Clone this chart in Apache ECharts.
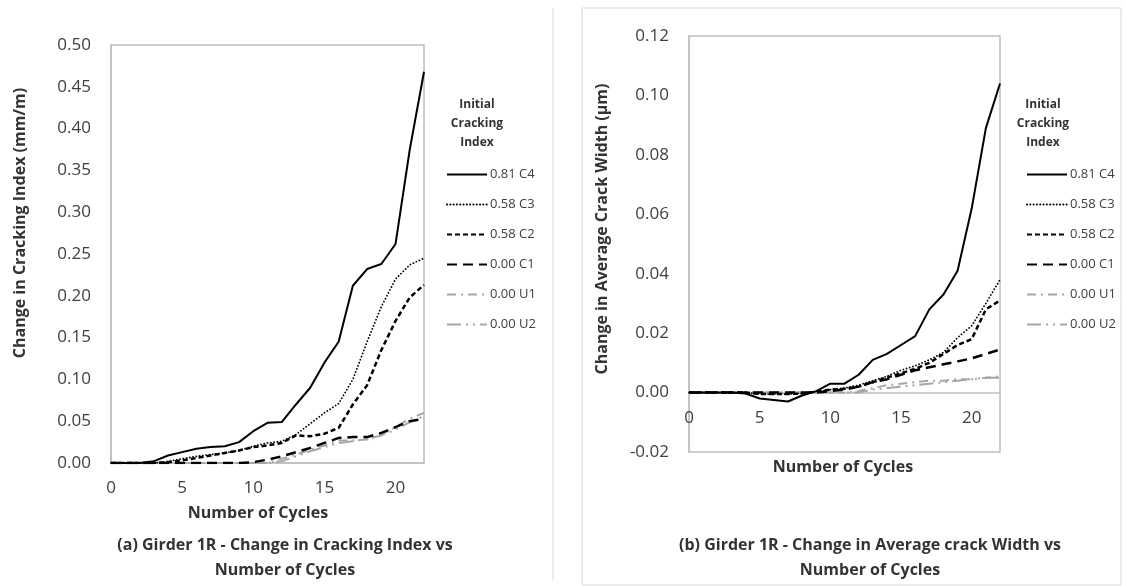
<!DOCTYPE html>
<html>
<head>
<meta charset="utf-8">
<script src="https://cdn.jsdelivr.net/npm/echarts@6/dist/echarts.min.js"></script>
<style>
html,body{margin:0;padding:0;background:#fff;}
#chart{width:1126px;height:586px;}
</style>
</head>
<body>
<div id="chart"></div>
<script>
// ---- data ----
const cycles = [0,1,2,3,4,5,6,7,8,9,10,11,12,13,14,15,16,17,18,19,20,21,22];
const seriesNames = ['0.81 C4','0.58 C3','0.58 C2','0.00 C1','0.00 U1','0.00 U2'];
const xTicks = [0,5,10,15,20];
const leftYTicks = ['0.00','0.05','0.10','0.15','0.20','0.25','0.30','0.35','0.40','0.45','0.50'];
const rightYTicks = ['-0.02','0.00','0.02','0.04','0.06','0.08','0.10','0.12'];

// (a) Change in Cracking Index (mm/m)
const aC4 = [0,0,0,0.002,0.009,0.013,0.017,0.019,0.020,0.025,0.038,0.048,0.049,0.070,0.090,0.120,0.145,0.212,0.232,0.238,0.262,0.375,0.468];
const aC3 = [0,0,0,0,0.002,0.005,0.008,0.010,0.012,0.015,0.020,0.024,0.026,0.034,0.047,0.060,0.071,0.100,0.145,0.187,0.220,0.237,0.245];
const aC2 = [0,0,0,0,0.001,0.003,0.006,0.009,0.012,0.015,0.019,0.021,0.024,0.033,0.032,0.035,0.042,0.070,0.093,0.135,0.170,0.198,0.213];
const aC1 = [0,0,0,0,0,0,0,0,0,0,0.001,0.004,0.008,0.013,0.018,0.024,0.030,0.031,0.031,0.036,0.043,0.050,0.053];
const aU1 = [0,0,0,0,0,0,0,0,0,0,0,0,0.005,0.010,0.016,0.021,0.027,0.027,0.028,0.034,0.043,0.053,0.060];
const aU2 = [0,0,0,0,0,0,0,0,0,0,0,0,0.002,0.008,0.014,0.019,0.024,0.026,0.029,0.033,0.040,0.049,0.056];

// (b) Change in Average Crack Width (µm)
const bC4 = [0,0,0,0,-0.0003,-0.002,-0.0025,-0.003,-0.001,0.0005,0.003,0.003,0.006,0.011,0.013,0.016,0.019,0.028,0.033,0.041,0.062,0.089,0.104];
const bC3 = [0,0,0,0,0,-0.0005,-0.0005,-0.0005,-0.0003,0.0003,0.001,0.0015,0.0025,0.004,0.0055,0.0075,0.009,0.011,0.0135,0.0185,0.0225,0.030,0.038];
const bC2 = [0,0,0,0,0,-0.0005,-0.0005,-0.0005,-0.0003,0.0003,0.001,0.0013,0.002,0.0035,0.005,0.0065,0.008,0.010,0.013,0.016,0.018,0.028,0.031];
const bC1 = [0,0,0,0,0,0,0,0,0,0,0.0005,0.001,0.002,0.0035,0.0045,0.006,0.0075,0.0085,0.0095,0.0105,0.0115,0.013,0.0145];
const bU1 = [0,0,0,0,0,0,0,0,0,0,0,0,0.0005,0.0015,0.0025,0.003,0.0035,0.004,0.004,0.0045,0.0045,0.005,0.0055];
const bU2 = [0,0,0,0,0,0,0,0,0,0,0,0,0,0.001,0.0015,0.002,0.0025,0.003,0.0035,0.004,0.0045,0.005,0.005];

// ---- styles ----
const FONT = 'Open Sans';
const GRAY = '#a6a6a6';
const lineStyles = [
  {color:'#000', width:2, type:'solid'},
  {color:'#000', width:1.8, type:[0.1,3.2], cap:'round'},
  {color:'#000', width:2.5, type:[5,3]},
  {color:'#000', width:2.5, type:[10,6]},
  {color:GRAY, width:2, type:[9,5,2,5]},
  {color:GRAY, width:2, type:[14,5,2,5,2,5]}
];
const pairs = arr => cycles.map((c,i)=>[c, arr[i]]);
const leftData = [aC4,aC3,aC2,aC1,aU1,aU2];
const rightData = [bC4,bC3,bC2,bC1,bU1,bU2];

const series = [];
seriesNames.forEach((n,i)=>{
  series.push({name:n, type:'line', xAxisIndex:0, yAxisIndex:0, data:pairs(leftData[i]),
    symbol:'none', lineStyle:lineStyles[i], itemStyle:{color:lineStyles[i].color}, z: 10-i});
});
seriesNames.forEach((n,i)=>{
  series.push({name:n, type:'line', xAxisIndex:1, yAxisIndex:1, data:pairs(rightData[i]),
    symbol:'none', lineStyle:lineStyles[i], itemStyle:{color:lineStyles[i].color}, z: 10-i});
});

const axisLineStyle = {color:'#bfbfbf', width:1.5};
const rightYMin = Number(rightYTicks[0]), rightYMax = Number(rightYTicks[rightYTicks.length-1]);
const rightGridHeight = 416;
function xAxisCfg(gi, offset){
  return {gridIndex:gi, type:'value', min:xTicks[0], max:22, interval:xTicks[1]-xTicks[0],
    offset: offset,
    axisLine:{show:true, onZero:false, lineStyle:axisLineStyle}, axisTick:{show:false}, splitLine:{show:false},
    axisLabel:{showMaxLabel:false, fontSize:17, color:'#404040', fontFamily:FONT, margin:17}};
}
function yAxisCfg(gi, ticks){
  const vals = ticks.map(Number);
  return {gridIndex:gi, type:'value', min:vals[0], max:vals[vals.length-1], interval:+(vals[1]-vals[0]).toFixed(4),
    axisLine:{show:true, onZero:false, lineStyle:axisLineStyle}, axisTick:{show:false}, splitLine:{show:false},
    axisLabel:{fontSize:17, color:'#404040', fontFamily:FONT, margin:20,
      formatter: v => { const s = (Math.round(v*100)/100).toFixed(2); return s==='-0.00'?'0.00':s; }}};
}

const boldText = (text, x, y, extra) => Object.assign({type:'text', x:x, y:y, silent:true,
  style:{text:text, fill:'#333', font:'bold 16px "'+FONT+'"', textAlign:'center', textVerticalAlign:'middle'}}, extra||{});

const legendCfg = left => ({left:left, top:163, orient:'vertical', itemWidth:40, itemHeight:14, itemGap:17,
  selectedMode:false, itemStyle:{opacity:0}, textStyle:{fontSize:13, color:'#404040', fontFamily:FONT, padding:[0,0,0,-2]},
  data:seriesNames});

const option = {
  animation:false,
  backgroundColor:'#fff',
  textStyle:{fontFamily:FONT},
  grid:[
    {left:111, top:45, width:313, height:418, show:true, borderColor:'#bfbfbf', borderWidth:1.5},
    {left:689, top:36, width:311, height:rightGridHeight, show:true, borderColor:'#bfbfbf', borderWidth:1.5}
  ],
  xAxis:[xAxisCfg(0, 0), xAxisCfg(1, -rightGridHeight*(0-rightYMin)/(rightYMax-rightYMin))],
  yAxis:[yAxisCfg(0, leftYTicks), yAxisCfg(1, rightYTicks)],
  legend:[legendCfg(441), legendCfg(1021)],
  graphic:[
    {type:'line', silent:true, shape:{x1:553, y1:8, x2:553, y2:580}, style:{stroke:'#d9d9d9', lineWidth:1}},
    {type:'rect', silent:true, shape:{x:582, y:8, width:539, height:577}, style:{stroke:'#d9d9d9', fill:'none', lineWidth:1}},
    boldText('Change in Cracking Index (mm/m)', 20, 223, {rotation:Math.PI/2}),
    boldText('Change in Average Crack Width (\u00b5m)', 602, 229, {rotation:Math.PI/2}),
    boldText('Number of Cycles', 258, 513),
    boldText('Number of Cycles', 843, 467),
    boldText('(a) Girder 1R - Change in Cracking Index vs', 285, 545),
    boldText('Number of Cycles', 285, 570),
    boldText('(b) Girder 1R - Change in Average crack Width vs', 870, 545),
    boldText('Number of Cycles', 870, 570),
    {type:'text', x:477, y:124, silent:true, style:{text:'Initial\nCracking\nIndex', fill:'#333',
      font:'bold 12px "'+FONT+'"', textAlign:'center', textVerticalAlign:'middle', lineHeight:19}},
    {type:'text', x:1043, y:124, silent:true, style:{text:'Initial\nCracking\nIndex', fill:'#333',
      font:'bold 12px "'+FONT+'"', textAlign:'center', textVerticalAlign:'middle', lineHeight:19}}
  ],
  series:series
};

const chart = echarts.init(document.getElementById('chart'), null, {renderer:'canvas'});
chart.setOption(option);
</script>
</body>
</html>
